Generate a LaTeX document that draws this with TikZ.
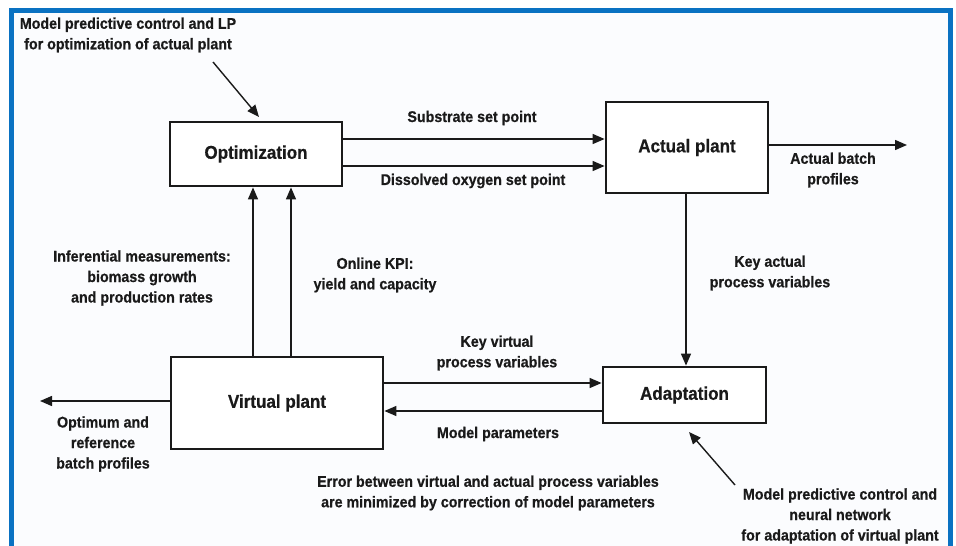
\documentclass[tikz,border=0pt]{standalone}
\usepackage{fontspec}
\setmainfont{Liberation Sans}[FakeStretch=0.92, BoldFeatures={FakeBold=0.6}]
\usetikzlibrary{arrows.meta}
\definecolor{frameblue}{HTML}{0A72C2}
\definecolor{bgpaper}{HTML}{FBFCFE}
\definecolor{ink}{HTML}{1A1A1A}
\tikzset{
  blockbox/.style={draw=ink, line width=2.8pt, fill=white, inner sep=0pt, font=\fontsize{18.5}{22}\selectfont\bfseries, text=ink},
  lbl/.style={font=\fontsize{15.5}{20.5}\selectfont\bfseries, text=ink, align=center, inner sep=0pt},
  conn/.style={draw=ink, line width=1.4pt, -{Triangle[length=12pt,width=10pt]}},
}
\begin{document}
\begin{tikzpicture}[x=1pt,y=-1pt]
\useasboundingbox (0,0) rectangle (956,546);
\fill[white] (0,0) rectangle (956,546);
\fill[bgpaper] (14,13) rectangle (948,546);
\fill[frameblue] (9,8) rectangle (953,13);
\fill[frameblue] (9,8) rectangle (14,546);
\fill[frameblue] (948,8) rectangle (953,546);

% blocks
\node[blockbox, minimum width=172pt, minimum height=64pt] (opt) at (256,154) {Optimization};
\node[blockbox, minimum width=162pt, minimum height=91pt] (act) at (687,147.5) {Actual plant};
\node[blockbox, minimum width=212pt, minimum height=92pt] (vir) at (277,403) {Virtual plant};
\node[blockbox, minimum width=163pt, minimum height=56pt] (ada) at (684.5,395) {Adaptation};

% connectors between blocks
\draw[conn] (opt.east |- 0,139) -- (act.west |- 0,139);
\draw[conn] (opt.east |- 0,166) -- (act.west |- 0,166);
\coordinate (actout) at (907,145);
\draw[conn] (act.east |- actout) -- (actout);
\draw[conn] (act.south -| 686,0) -- (ada.north -| 686,0);
\draw[conn] (vir.east |- 0,383) -- (ada.west |- 0,383);
\draw[conn] (ada.west |- 0,411) -- (vir.east |- 0,411);
\coordinate (virout) at (40,401);
\draw[conn] (vir.west |- virout) -- (virout);
\draw[conn] (vir.north -| 253,0) -- (opt.south -| 253,0);
\draw[conn] (vir.north -| 291,0) -- (opt.south -| 291,0);

% labels
\node[lbl] (lsub) at (472,118) {Substrate set point};
\node[lbl] (ldo) at (473,181) {Dissolved oxygen set point};
\node[lbl] (lab) at (833,170) {Actual batch\\profiles};
\node[lbl] (lkact) at (770,273) {Key actual\\process variables};
\node[lbl] (lkvir) at (497,353) {Key virtual\\process variables};
\node[lbl] (lmp) at (498,434) {Model parameters};
\node[lbl] (lopt) at (103,444) {Optimum and\\reference\\batch profiles};
\node[lbl] (linf) at (142,278) {Inferential measurements:\\biomass growth\\and production rates};
\node[lbl] (lkpi) at (375,275) {Online KPI:\\yield and capacity};
\node[lbl] (lerr) at (488,493) {Error between virtual and actual process variables\\are minimized by correction of model parameters};
\node[lbl] (lmpc) at (128,35) {Model predictive control and LP\\for optimization of actual plant};
\node[lbl] (lnn) at (840,516) {Model predictive control and\\neural network\\for adaptation of virtual plant};

% annotation arrows
\coordinate (a1s) at (213,62);
\coordinate (a1e) at (259,117);
\draw[conn] (a1s) -- (a1e);
\coordinate (a2s) at (735,485);
\coordinate (a2e) at (689,432);
\draw[conn] (a2s) -- (a2e);
\end{tikzpicture}
\end{document}
